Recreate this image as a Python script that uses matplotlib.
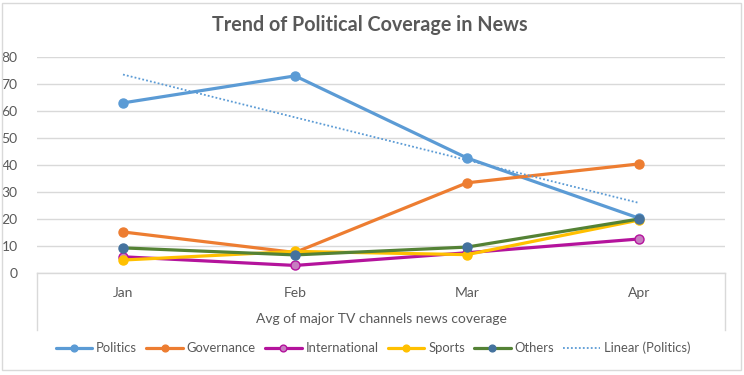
import numpy as np
import matplotlib
matplotlib.use("Agg")
from matplotlib import pyplot as plt
from matplotlib.patches import Rectangle
from matplotlib.lines import Line2D

plt.rcParams['font.family'] = ['Lato', 'DejaVu Sans']

months = ['Jan', 'Feb', 'Mar', 'Apr']
politics = [63, 73, 42.6, 20.3]
governance = [15.2, 7.6, 33.4, 40.4]
international = [6.0, 2.8, 7.5, 12.6]
sports = [4.8, 8.0, 6.8, 19.6]
others = [9.3, 6.7, 9.6, 20.0]

series = [
    ('Politics', politics, '#5B9BD5', '#5B9BD5', '#5B9BD5'),
    ('Governance', governance, '#ED7D31', '#ED7D31', '#ED7D31'),
    ('International', international, '#B4139C', '#C77DC0', '#B4139C'),
    ('Sports', sports, '#FFC000', '#FFC000', '#FFC000'),
    ('Others', others, '#548235', '#44729E', '#44729E'),
]

W, H = 744, 375
fig = plt.figure(figsize=(W / 100, H / 100), dpi=100)
fig.patch.set_facecolor('white')

# chart border
fig.patches.append(Rectangle((2 / W, 5 / H), 739 / W, 367 / H, transform=fig.transFigure,
                             fill=False, edgecolor='#d9d9d9', linewidth=1))

ax = fig.add_axes([37 / W, (H - 273) / H, (725 - 37) / W, (273 - 57) / H])
x = np.arange(len(months))
ax.set_xlim(-0.5, len(months) - 0.5)
ax.set_ylim(0, 80)
ax.set_yticks(range(0, 81, 10))
ax.yaxis.grid(True, color='#d9d9d9', linewidth=1)
ax.set_axisbelow(True)
for s in ax.spines.values():
    s.set_visible(False)
ax.tick_params(axis='y', length=0, pad=14, labelsize=10, labelcolor='#595959')
ax.set_xticks(x)
ax.set_xticklabels(months)
ax.tick_params(axis='x', length=0, pad=10, labelsize=10, labelcolor='#595959')

handles = []
for name, vals, lc, mfc, mec in series:
    ln, = ax.plot(x, vals, color=lc, linewidth=2.3, marker='o', markersize=6.5,
                  markerfacecolor=mfc, markeredgecolor=mec, solid_capstyle='round', label=name)
    handles.append(ln)

# linear trendline for Politics
k, b = np.polyfit(x, politics, 1)
tr, = ax.plot(x, k * x + b, color='#5B9BD5', linewidth=1.3, linestyle=(0, (1, 1.2)),
              label='Linear (Politics)')
handles.append(tr)

# box under the category axis
for xp in (37, 725):
    fig.add_artist(Line2D([xp / W, xp / W], [(H - 273) / H, (H - 330) / H],
                          transform=fig.transFigure, color='#d9d9d9', linewidth=1))
fig.add_artist(Line2D([37 / W, 725 / W], [(H - 273) / H, (H - 273) / H],
                      transform=fig.transFigure, color='#d9d9d9', linewidth=1))

fig.text(381 / W, (H - 319) / H, 'Avg of major TV channels news coverage',
         ha='center', va='center', fontsize=10, color='#595959')
fig.text(370 / W, (H - 25) / H, 'Trend of Political Coverage in News',
         ha='center', va='center', fontsize=14.2, fontweight='bold', color='#595959')

leg = fig.legend(handles=handles, loc='center', bbox_to_anchor=(373 / W, (H - 348) / H),
                 ncol=6, frameon=False, fontsize=9.4, handlelength=2.8, columnspacing=0.7,
                 handletextpad=0.3, markerscale=0.75, labelcolor='#595959')

fig.savefig('out.png', dpi=100)
